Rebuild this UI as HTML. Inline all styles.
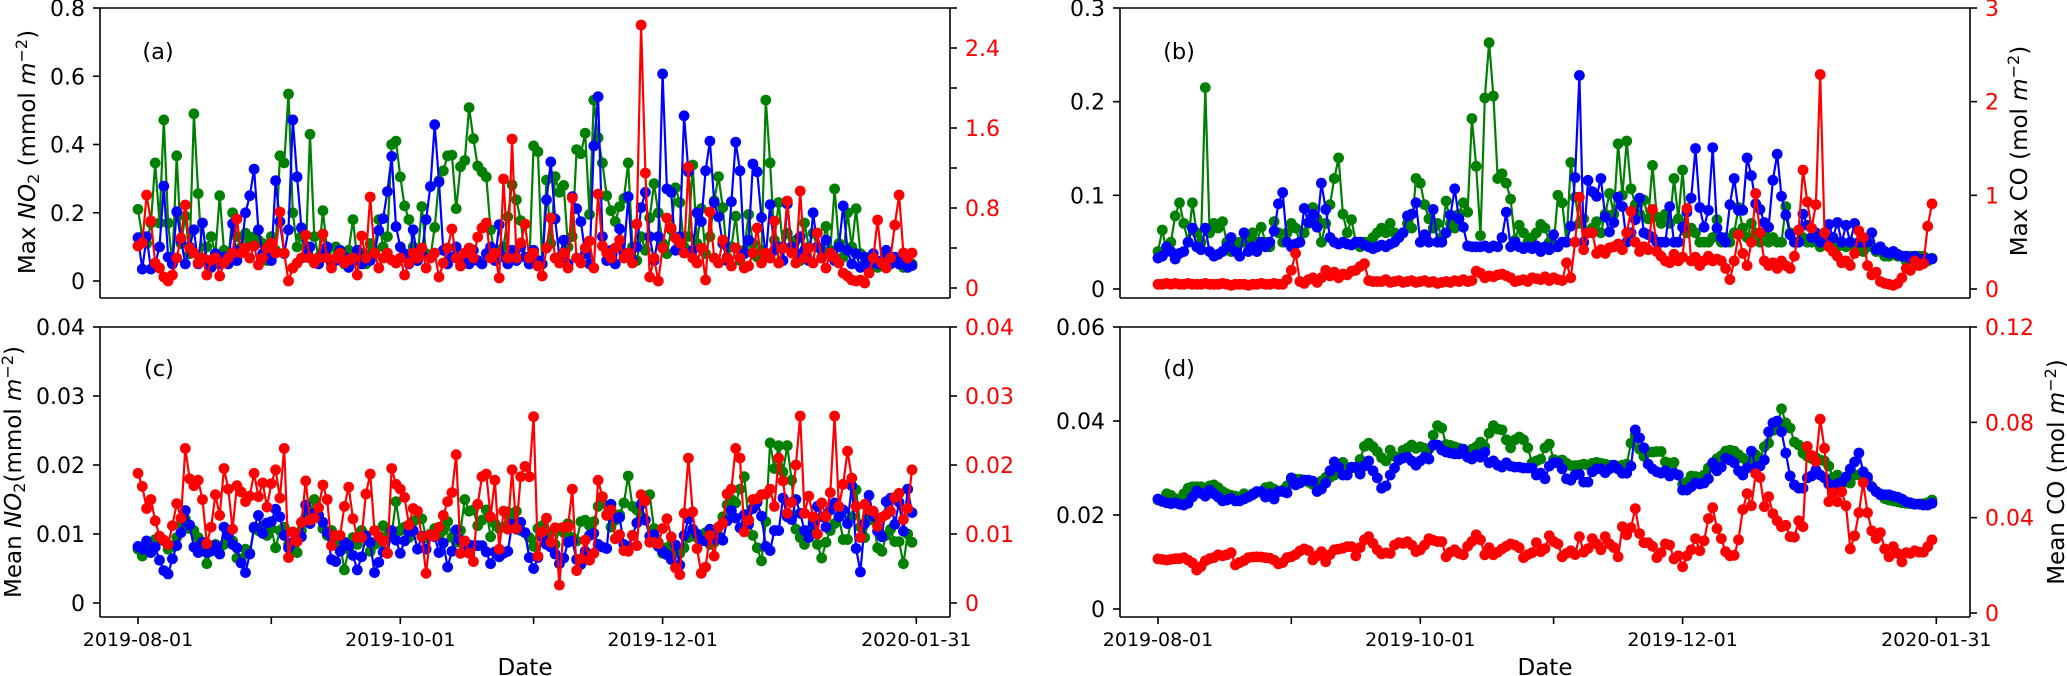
<!DOCTYPE html>
<html lang="en">
<head>
<meta charset="utf-8">
<title>NO2 and CO time series</title>
<style>
html,body{margin:0;padding:0;background:#fff;}
svg{display:block;font-family:"DejaVu Sans","Liberation Sans",sans-serif;}
</style>
</head>
<body>
<svg id="chart" xmlns="http://www.w3.org/2000/svg" width="2067" height="676" viewBox="0 0 2067 676">
  <rect x="0" y="0" width="2067" height="676" fill="#fff"/>
  <g id="plots"></g>
  <text x="158" y="59" font-size="22.5" text-anchor="middle">(a)</text>
  <text x="1179" y="59" font-size="22.5" text-anchor="middle">(b)</text>
  <text x="159" y="376" font-size="22.5" text-anchor="middle">(c)</text>
  <text x="1179" y="376" font-size="22.5" text-anchor="middle">(d)</text>
  <text x="525" y="675" font-size="23" text-anchor="middle">Date</text>
  <text x="1545" y="675" font-size="23" text-anchor="middle">Date</text>
  <text transform="translate(35,152) rotate(-90)" font-size="23" text-anchor="middle">Max <tspan font-style="italic">NO</tspan><tspan dy="4" font-size="16">2</tspan><tspan dy="-4"> (mmol </tspan><tspan font-style="italic">m</tspan><tspan dy="-8" font-size="16">−2</tspan><tspan dy="8">)</tspan></text>
  <text transform="translate(21,472) rotate(-90)" font-size="23" text-anchor="middle">Mean <tspan font-style="italic">NO</tspan><tspan dy="4" font-size="16">2</tspan><tspan dy="-4">(mmol </tspan><tspan font-style="italic">m</tspan><tspan dy="-8" font-size="16">−2</tspan><tspan dy="8">)</tspan></text>
  <text transform="translate(2027,151) rotate(-90)" font-size="23" text-anchor="middle">Max CO (mol <tspan font-style="italic">m</tspan><tspan dy="-8" font-size="16">−2</tspan><tspan dy="8">)</tspan></text>
  <text transform="translate(2064,472) rotate(-90)" font-size="23" text-anchor="middle">Mean CO (mol <tspan font-style="italic">m</tspan><tspan dy="-8" font-size="16">−2</tspan><tspan dy="8">)</tspan></text>
</svg>
<script>
const xTickIndex = [0,31,61,92,122,181];
const xTickLabels = ['2019-08-01','','2019-10-01','','2019-12-01','2020-01-31'];

const aLeftTicks = [0,0.2,0.4,0.6,0.8];
const aLeftLabels = ['0','0.2','0.4','0.6','0.8'];
const aRightTicks = [0,0.4,0.8,1.2,1.6,2,2.4,2.8];
const aRightLabels = ['0','','0.8','','1.6','','2.4',''];
const bLeftTicks = [0,0.1,0.2,0.3];
const bLeftLabels = ['0','0.1','0.2','0.3'];
const bRightTicks = [0,1,2,3];
const bRightLabels = ['0','1','2','3'];
const cLeftTicks = [0,0.01,0.02,0.03,0.04];
const cLeftLabels = ['0','0.01','0.02','0.03','0.04'];
const cRightTicks = [0,0.01,0.02,0.03,0.04];
const cRightLabels = ['0','0.01','0.02','0.03','0.04'];
const dLeftTicks = [0,0.02,0.04,0.06];
const dLeftLabels = ['0','0.02','0.04','0.06'];
const dRightTicks = [0,0.04,0.08,0.12];
const dRightLabels = ['0','0.04','0.08','0.12'];

const aGreen = [.21,.13,.11,.17,.346,.17,.472,.17,.05,.367,
.11,.19,.08,.49,.256,.06,.1,.13,.08,.25,
.09,.06,.2,.13,.1,.14,.12,.13,.12,.11,
.06,.13,.09,.367,.346,.548,.2,.1,.13,.07,
.43,.13,.07,.206,.09,.06,.1,.07,.05,.09,
.18,.06,.08,.05,.11,.09,.18,.1,.13,.4,
.41,.305,.22,.18,.1,.06,.218,.08,.07,.157,
.294,.323,.367,.369,.212,.335,.353,.508,.417,.337,
.32,.305,.15,.07,.09,.1,.188,.282,.238,.177,
.07,.05,.396,.379,.05,.296,.11,.306,.26,.28,
.1,.13,.385,.373,.433,.195,.53,.42,.346,.25,
.206,.174,.218,.242,.346,.1,.06,.13,.09,.185,
.285,.2,.11,.08,.15,.273,.23,.1,.13,.34,
.11,.212,.08,.13,.235,.306,.215,.07,.1,.19,
.06,.09,.195,.11,.07,.09,.53,.346,.12,.23,
.1,.14,.09,.12,.06,.17,.1,.14,.1,.09,
.16,.09,.27,.11,.07,.2,.1,.212,.08,.05,
.04,.06,.04,.05,.08,.05,.06,.05,.04,.06,.05];

const aBlue = [.127,.035,.13,.035,.05,.1,.278,.07,.05,.203,
.12,.05,.1,.15,.05,.17,.06,.04,.08,.05,
.07,.05,.168,.06,.09,.2,.25,.328,.15,.08,
.07,.06,.294,.174,.08,.15,.472,.305,.156,.07,
.1,.06,.05,.08,.1,.05,.06,.09,.07,.04,
.06,.09,.05,.07,.06,.08,.148,.183,.262,.365,
.159,.1,.08,.05,.15,.06,.08,.18,.277,.458,
.29,.09,.05,.07,.1,.06,.08,.05,.09,.06,
.05,.08,.1,.06,.165,.07,.05,.09,.06,.1,
.07,.05,.09,.06,.05,.238,.349,.182,.07,.12,
.05,.247,.212,.174,.08,.05,.396,.54,.13,.06,
.09,.05,.153,.08,.247,.06,.1,.215,.26,.13,
.06,.13,.607,.27,.26,.09,.13,.484,.32,.09,
.2,.174,.323,.41,.23,.188,.11,.06,.232,.407,
.323,.08,.12,.343,.32,.186,.07,.224,.09,.1,
.06,.226,.1,.08,.13,.09,.06,.2,.1,.07,
.12,.08,.06,.1,.22,.09,.05,.08,.04,.07,
.05,.08,.05,.06,.09,.05,.07,.05,.06,.04,.045];

const aRed = [.42,.45,.93,.67,.25,.2,.11,.07,.13,.3,
.5,.83,.4,.35,.25,.3,.13,.28,.3,.12,
.25,.3,.35,.69,.35,.4,.3,.42,.23,.3,
.4,.45,.35,.76,.35,.07,.2,.25,.3,.53,
.3,.25,.3,.54,.3,.2,.3,.35,.25,.28,
.3,.13,.52,.3,.91,.35,.2,.3,.35,.28,
.25,.3,.13,.25,.35,.3,.4,.2,.3,.35,
.11,.25,.4,.59,.3,.22,.35,.4,.3,.51,
.6,.65,.3,.35,.1,1.09,.3,1.49,.3,.45,
.64,.3,.35,.22,.12,.4,.7,.3,.25,.35,
.2,.9,.3,.25,.4,.47,.2,.94,.42,.35,
.3,.4,.48,.3,.35,.25,.64,2.63,1.15,.11,
.3,.07,.4,.7,.6,.5,.45,.35,1.21,.3,
.25,.4,.08,.76,.3,.25,.48,.3,.22,.4,
.3,.2,.22,.35,.6,.25,.35,.3,.67,.25,
.4,.87,.35,.25,.97,.3,.4,.25,.55,.3,
.2,.35,.3,.25,.15,.12,.08,.07,.08,.05,
.15,.3,.68,.25,.2,.3,.63,.93,.35,.3,.35];

const bGreen = [.04,.063,.04,.05,.078,.092,.07,.05,.092,.06,
.05,.215,.06,.07,.065,.072,.05,.04,.045,.05,
.05,.055,.06,.05,.066,.05,.045,.072,.06,.05,
.06,.07,.065,.05,.06,.07,.087,.075,.05,.07,
.09,.118,.14,.08,.06,.074,.05,.045,.05,.05,
.055,.06,.065,.06,.07,.06,.055,.06,.07,.065,
.118,.113,.09,.075,.065,.07,.055,.094,.07,.065,
.08,.092,.082,.182,.131,.057,.204,.263,.206,.118,
.123,.113,.096,.052,.068,.06,.05,.055,.06,.069,
.065,.05,.045,.1,.092,.05,.135,.098,.07,.075,
.06,.065,.072,.06,.08,.102,.08,.155,.1,.158,
.107,.09,.08,.095,.075,.132,.077,.07,.08,.07,
.118,.075,.127,.06,.065,.06,.05,.05,.05,.055,
.074,.05,.055,.05,.06,.087,.065,.055,.07,.06,
.05,.06,.05,.055,.05,.05,.088,.06,.05,.05,
.055,.05,.05,.055,.045,.05,.05,.045,.045,.05,
.045,.05,.045,.045,.04,.045,.045,.04,.04,.035,
.035,.04,.035,.035,.03,.035,.03,.035,.035,.03,.033];

const bBlue = [.033,.035,.045,.04,.032,.038,.04,.05,.065,.045,
.042,.065,.04,.035,.037,.04,.045,.055,.04,.035,
.06,.04,.045,.04,.05,.045,.05,.062,.091,.103,
.05,.045,.048,.05,.086,.071,.08,.066,.113,.085,
.055,.05,.048,.05,.048,.047,.05,.05,.047,.045,
.043,.045,.047,.045,.048,.05,.055,.06,.078,.08,
.092,.05,.058,.05,.085,.05,.05,.06,.079,.107,
.075,.066,.046,.045,.045,.045,.046,.044,.046,.045,
.055,.082,.045,.05,.045,.043,.045,.043,.046,.04,
.045,.042,.058,.045,.05,.05,.067,.119,.228,.05,
.116,.104,.099,.118,.077,.061,.071,.098,.088,.05,
.06,.074,.097,.06,.058,.055,.05,.05,.05,.088,
.05,.05,.066,.082,.097,.15,.087,.066,.084,.151,
.065,.055,.05,.09,.118,.084,.084,.14,.121,.091,
.085,.071,.066,.116,.144,.099,.079,.058,.05,.05,
.08,.068,.055,.06,.05,.05,.069,.055,.071,.05,
.068,.05,.07,.05,.05,.05,.06,.042,.045,.04,
.038,.04,.037,.035,.035,.033,.035,.03,.032,.032,.032];

const bRed = [.05,.05,.06,.05,.06,.05,.05,.06,.05,.05,
.05,.06,.05,.05,.05,.06,.05,.04,.05,.05,
.05,.04,.05,.05,.06,.05,.05,.06,.05,.05,
.1,.2,.38,.08,.06,.1,.12,.07,.12,.2,
.14,.18,.12,.16,.15,.19,.2,.24,.27,.09,
.08,.08,.08,.1,.07,.08,.09,.07,.08,.09,
.07,.08,.09,.07,.08,.06,.07,.08,.07,.09,
.08,.1,.08,.09,.19,.17,.12,.14,.13,.15,
.16,.14,.12,.08,.09,.1,.08,.12,.11,.1,
.13,.09,.12,.1,.09,.28,.12,.5,.98,.42,
.6,.6,.38,.42,.38,.44,.45,.48,.42,.6,
.83,.5,.4,.45,.42,.85,.4,.35,.3,.28,
.37,.3,.34,.86,.3,.34,.25,.3,.35,.3,
.32,.3,.22,.1,.3,.58,.38,.25,.5,1.02,
.6,.3,.25,.28,.22,.3,.25,.22,.35,.63,
1.27,.93,.65,.9,2.29,.6,.45,.4,.35,.28,
.3,.25,.38,.62,.55,.25,.15,.18,.08,.06,
.05,.04,.06,.12,.22,.2,.3,.25,.27,.67,.91];

const cGreen = [.0078,.0068,.0075,.0085,.0092,.0095,.009,.0078,.0082,.0095,
.0115,.0122,.0108,.0105,.0095,.0085,.0057,.0075,.0085,.008,
.0085,.0095,.009,.0065,.0064,.0078,.0072,.0108,.0105,.0112,
.0098,.0108,.008,.0105,.011,.0085,.0078,.0073,.0105,.0125,
.013,.015,.0125,.0108,.0098,.0105,.0095,.0085,.0048,.0078,
.0095,.0085,.0105,.0098,.0075,.0085,.0088,.0112,.0098,.01,
.0147,.0105,.011,.0095,.0118,.0122,.0122,.0095,.01,.0108,
.0098,.0105,.0118,.0095,.0088,.0105,.015,.0133,.0135,.0112,
.012,.0135,.0096,.0115,.0108,.011,.0132,.012,.0133,.0105,
.0102,.0095,.0082,.0108,.0112,.0095,.0102,.0085,.0108,.0102,
.0115,.0095,.009,.0118,.012,.0112,.0118,.014,.0145,.0128,
.011,.012,.0128,.0145,.0184,.014,.0135,.0125,.0155,.0157,
.0108,.0088,.0072,.008,.0085,.0075,.0072,.008,.0095,.0105,
.0095,.0098,.0102,.0085,.0088,.0098,.0125,.0142,.015,.0145,
.0165,.0183,.012,.0098,.008,.0061,.0118,.0232,.0195,.0228,
.019,.0228,.0178,.0107,.0095,.0085,.0105,.012,.0085,.0065,
.0088,.0105,.0115,.0125,.0092,.0092,.0125,.0164,.011,.0095,
.0125,.012,.008,.0075,.0098,.0107,.0089,.0089,.0057,.01,.0088];

const cBlue = [.0082,.0078,.009,.0073,.0081,.0062,.0047,.0042,.0064,.0083,
.0102,.0134,.0113,.0081,.0073,.0088,.0073,.0076,.0083,.0071,
.011,.0098,.0085,.008,.0058,.0044,.0071,.011,.0127,.0101,
.0116,.0118,.0136,.0125,.0098,.008,.0088,.0095,.0096,.0142,
.0115,.013,.0127,.0117,.0102,.0063,.006,.0075,.0088,.0083,
.0069,.0048,.0067,.0097,.0088,.0044,.0059,.0074,.0072,.0105,
.0091,.0072,.009,.0103,.0105,.0078,.0097,.0078,.0098,.0096,
.0073,.0087,.0052,.0075,.0106,.0091,.0075,.0084,.0083,.0083,
.0083,.0074,.0057,.0074,.0067,.0072,.0075,.0114,.0107,.0117,
.0102,.0066,.005,.0066,.0096,.0085,.0081,.0071,.0057,.0065,
.0088,.009,.0063,.0056,.0075,.0098,.0101,.0085,.0081,.0079,
.0143,.0123,.0124,.0085,.0082,.0098,.0116,.0143,.012,.0097,
.0099,.0082,.0075,.007,.0063,.0084,.0055,.0098,.0122,.0107,
.01,.009,.009,.0107,.0092,.0095,.0091,.0119,.0134,.0123,
.0109,.0128,.0114,.0137,.0146,.0126,.0082,.0076,.0105,.0105,
.0152,.0125,.0121,.015,.013,.0105,.0095,.0115,.014,.0125,
.011,.0135,.0145,.0125,.0135,.0115,.017,.0079,.0045,.0115,
.0156,.0126,.0104,.0096,.0147,.0152,.0114,.0146,.0104,.0165,.0131];

const cRed = [.0188,.0169,.0137,.015,.0119,.0097,.0091,.0085,.0112,.0144,
.0123,.0224,.018,.017,.0178,.015,.0086,.011,.0157,.0127,
.0195,.0165,.0107,.017,.0161,.0147,.0155,.0188,.0154,.0174,
.0139,.0173,.0193,.0152,.0224,.0066,.0103,.0089,.0117,.0177,
.012,.0123,.0138,.0171,.015,.0083,.0098,.0098,.014,.0168,
.0122,.0095,.0095,.0158,.0187,.0105,.0096,.009,.0072,.0195,
.0172,.0165,.0153,.0113,.0137,.0133,.0096,.0043,.0099,.0097,
.011,.0127,.0147,.016,.0215,.0072,.009,.0072,.006,.0143,
.0183,.0187,.0125,.0178,.0078,.0133,.0107,.0193,.0108,.0183,
.0198,.0183,.027,.0068,.0103,.0123,.0088,.0109,.0026,.011,
.011,.0165,.0047,.0064,.0091,.0062,.0072,.0178,.0154,.0127,
.0135,.0093,.0099,.0076,.0075,.0098,.0083,.0157,.0148,.0088,
.0088,.0086,.0108,.0122,.0096,.0051,.0041,.013,.021,.0132,
.0079,.0043,.0052,.0098,.0068,.011,.0116,.0158,.0165,.0224,
.021,.0103,.012,.015,.0151,.0157,.0158,.0165,.014,.021,
.0177,.013,.0146,.02,.0271,.013,.0155,.0125,.01,.0145,
.0125,.016,.0271,.014,.0172,.022,.0181,.014,.0095,.0143,
.0135,.0133,.0111,.0124,.0128,.0133,.0153,.0159,.0121,.0137,.0193];

const dGreen = [.0232,.0232,.0245,.0242,.0235,.0232,.0245,.0257,.026,.026,
.026,.0255,.0262,.0264,.0258,.025,.0245,.0242,.024,.0235,
.0245,.024,.0245,.0248,.025,.0258,.026,.0255,.025,.0253,
.0262,.0272,.0276,.0276,.0274,.027,.0265,.0262,.0272,.028,
.028,.0285,.03,.0312,.0295,.03,.03,.0318,.0346,.0353,
.0345,.0335,.0322,.0315,.0338,.0325,.032,.0338,.0342,.0349,
.0342,.0345,.0342,.034,.037,.039,.0385,.035,.0348,.0345,
.0342,.0338,.0335,.034,.0345,.0355,.0345,.0374,.039,.0383,
.0381,.036,.0343,.036,.0366,.036,.0343,.0311,.0315,.0319,
.0343,.0351,.0318,.0315,.0317,.031,.0305,.0305,.0306,.0308,
.0306,.031,.0312,.031,.0308,.0306,.0305,.0304,.0306,.0308,
.0353,.037,.034,.0325,.0334,.0334,.0335,.0335,.0313,.031,
.0312,.0285,.0265,.027,.0283,.0282,.028,.0285,.03,.031,
.032,.0326,.0336,.0338,.0336,.0328,.0321,.0315,.031,.0328,
.032,.0345,.0353,.038,.0392,.0426,.0396,.0385,.0355,.0349,
.0332,.0325,.032,.0322,.0317,.0315,.0304,.028,.0285,.0275,
.027,.0268,.0285,.0285,.0285,.0275,.026,.025,.0245,.0235,
.0232,.023,.0228,.0226,.0225,.0224,.0223,.0223,.0224,.0226,.0232];

const dBlue = [.0234,.0229,.0226,.0224,.0226,.0223,.0221,.0225,.0238,.0251,
.0246,.024,.0253,.0245,.0238,.023,.0232,.0236,.023,.023,
.0234,.0238,.0243,.025,.025,.0238,.0245,.0234,.025,.025,
.0247,.0279,.0264,.0268,.0274,.0274,.0272,.025,.0255,.0268,
.0294,.0313,.0302,.0285,.0285,.0302,.0302,.0287,.0304,.0315,
.0294,.0279,.0257,.0262,.0285,.03,.0317,.0321,.0323,.0315,
.0306,.0315,.0323,.0319,.0349,.0349,.0338,.0334,.0332,.033,
.033,.034,.0323,.0319,.0328,.0323,.0334,.0311,.0315,.0306,
.0302,.0311,.0304,.0302,.0302,.03,.03,.03,.0285,.0289,
.0277,.0304,.0311,.0311,.0298,.0277,.0274,.0285,.0287,.027,
.027,.0292,.0298,.0298,.029,.0298,.0306,.0298,.0289,.0289,
.0304,.0381,.0364,.0343,.0308,.0298,.0292,.0289,.0294,.0283,
.0289,.0285,.0253,.0253,.026,.0268,.0266,.0268,.0277,.0311,
.0294,.0302,.0321,.0317,.0311,.0294,.0285,.03,.0336,.0302,
.0304,.0317,.0377,.0396,.04,.0377,.0332,.0283,.0264,.0257,
.0257,.0279,.0283,.0296,.0285,.0279,.0266,.0262,.0266,.027,
.0281,.0298,.0313,.0332,.0292,.0281,.026,.025,.0243,.0243,
.0243,.024,.0238,.0234,.0228,.0226,.0223,.0223,.0221,.0221,.0225];

const dRed = [.0227,.0225,.0222,.0225,.0228,.0228,.0232,.0222,.021,.018,
.0195,.0219,.0228,.0232,.0244,.024,.0244,.0253,.0202,.0212,
.022,.0232,.0235,.0236,.0235,.0232,.023,.0222,.0206,.0212,
.0232,.0236,.0245,.026,.0269,.0262,.0223,.024,.0257,.0215,
.0245,.0265,.0268,.0272,.0278,.0278,.024,.0275,.0307,.032,
.0292,.0265,.0248,.0252,.025,.0285,.0295,.0292,.0299,.0285,
.0257,.0265,.0285,.0312,.0305,.03,.0299,.0236,.0255,.0265,
.025,.0244,.028,.03,.0328,.0307,.0244,.0274,.0244,.0255,
.0269,.028,.029,.0285,.0274,.0232,.0245,.0253,.0295,.0257,
.027,.0324,.03,.029,.0236,.025,.0261,.0245,.032,.0255,
.027,.0312,.029,.0265,.032,.029,.0275,.0236,.0362,.0328,
.0358,.0438,.0333,.0295,.0295,.028,.0232,.0253,.029,.0285,
.0227,.024,.0194,.024,.0265,.0312,.0261,.0303,.0396,.0442,
.0354,.0312,.0257,.024,.0242,.0307,.0434,.0501,.045,.0585,
.0568,.0446,.0488,.0417,.0387,.0362,.0368,.032,.0318,.0387,
.0362,.0699,.0661,.0636,.0813,.0691,.0467,.0505,.0467,.0509,
.045,.0269,.0324,.0421,.0547,.0421,.0345,.0312,.0337,.0269,
.0236,.0278,.025,.0215,.0253,.025,.0261,.0255,.0255,.0278,.0307];

const SVGNS = 'http://www.w3.org/2000/svg';
const plots = document.getElementById('plots');

function make(tag, parent) {
  const el = document.createElementNS(SVGNS, tag);
  parent.appendChild(el);
  return el;
}
function linearScale(v0, p0, v1, p1) {
  return function (v) { return p0 + (v - v0) * (p1 - p0) / (v1 - v0); };
}

const layouts = [
  {id:'a', left:100, right:950, top:8, bottom:298, first:138, step:4.3,
   yl:linearScale(0,281,0.8,8), yr:linearScale(0,288,2.8,8),
   lt:aLeftTicks, ll:aLeftLabels, rt:aRightTicks, rl:aRightLabels,
   series:[[aGreen,'l','#008000','green'],[aBlue,'l','#0000ff','blue'],[aRed,'r','#ff0000','red']], xlabels:false},
  {id:'b', left:1120, right:1970, top:8, bottom:298, first:1158, step:4.3,
   yl:linearScale(0,289,0.3,8), yr:linearScale(0,289,3,8),
   lt:bLeftTicks, ll:bLeftLabels, rt:bRightTicks, rl:bRightLabels,
   series:[[bGreen,'l','#008000','green'],[bBlue,'l','#0000ff','blue'],[bRed,'r','#ff0000','red']], xlabels:false},
  {id:'c', left:100, right:950, top:327, bottom:617, first:138, step:4.3,
   yl:linearScale(0,603,0.04,327), yr:linearScale(0,603,0.04,327),
   lt:cLeftTicks, ll:cLeftLabels, rt:cRightTicks, rl:cRightLabels,
   series:[[cGreen,'l','#008000','green'],[cBlue,'l','#0000ff','blue'],[cRed,'r','#ff0000','red']], xlabels:true},
  {id:'d', left:1120, right:1970, top:327, bottom:617, first:1158, step:4.3,
   yl:linearScale(0,609,0.06,327), yr:linearScale(0,613,0.12,327),
   lt:dLeftTicks, ll:dLeftLabels, rt:dRightTicks, rl:dRightLabels,
   series:[[dGreen,'l','#008000','green'],[dBlue,'l','#0000ff','blue'],[dRed,'r','#ff0000','red']], xlabels:true}
];

function hLine(parent, x1, x2, y) {
  const el = make('line', parent);
  el.setAttribute('x1', x1); el.setAttribute('x2', x2);
  el.setAttribute('y1', y); el.setAttribute('y2', y);
  el.setAttribute('stroke', '#000'); el.setAttribute('stroke-width', 1.6);
  return el;
}
function vLine(parent, x, y1, y2) {
  const el = make('line', parent);
  el.setAttribute('x1', x); el.setAttribute('x2', x);
  el.setAttribute('y1', y1); el.setAttribute('y2', y2);
  el.setAttribute('stroke', '#000'); el.setAttribute('stroke-width', 1.6);
  return el;
}

layouts.forEach(function (p) {
  const g = make('g', plots);
  
  
  const xScale = function (i) { return p.first + i * p.step; };

  // series under the axes frame
  p.series.forEach(function (s) {
    const values = s[0], scale = s[1] === 'l' ? p.yl : p.yr, color = s[2];
    const sg = make('g', g);
    
    
    const line = make('polyline', sg);
    
    
    line.setAttribute('fill', 'none');
    line.setAttribute('stroke', color);
    line.setAttribute('stroke-width', 2.2);
    line.setAttribute('stroke-linejoin', 'round');
    line.setAttribute('points', values.map(function (v, i) {
      return xScale(i).toFixed(1) + ',' + scale(v).toFixed(1);
    }).join(' '));
    values.forEach(function (v, i) {
      const c = make('circle', sg);
      
      
      c.setAttribute('cx', xScale(i).toFixed(1));
      c.setAttribute('cy', scale(v).toFixed(1));
      c.setAttribute('r', 5.4);
      c.setAttribute('fill', color);
    });
  });

  // frame
  const top = hLine(g, p.left, p.right, p.top);
  
  
  const bottom = hLine(g, p.left, p.right, p.bottom);
  
  
  const leftS = vLine(g, p.left, p.top, p.bottom);
  
  
  const rightS = vLine(g, p.right, p.top, p.bottom);
  
  

  // left ticks
  p.lt.forEach(function (v, i) {
    const y = p.yl(v);
    const t = hLine(g, p.left - 7, p.left, y);
    
    
    const label = make('text', g);
    
    
    label.setAttribute('x', p.left - 15);
    label.setAttribute('y', y + 8);
    label.setAttribute('font-size', 22);
    label.setAttribute('text-anchor', 'end');
    label.textContent = p.ll[i];
  });

  // right ticks
  p.rt.forEach(function (v, i) {
    const y = p.yr(v);
    const t = hLine(g, p.right, p.right + 7, y);
    
    
    if (p.rl[i]) {
      const label = make('text', g);
      
      
      label.setAttribute('x', p.right + 15);
      label.setAttribute('y', y + 8);
      label.setAttribute('font-size', 22);
      label.setAttribute('fill', '#ff0000');
      label.textContent = p.rl[i];
    }
  });

  // x ticks
  if (p.xlabels) {
    xTickIndex.forEach(function (idx, i) {
      const x = xScale(idx);
      const t = vLine(g, x, p.bottom, p.bottom + 7);
      
      
      if (xTickLabels[i]) {
        const label = make('text', g);
        
        
        label.setAttribute('x', x);
        label.setAttribute('y', 646);
        label.setAttribute('font-size', 19);
        label.setAttribute('text-anchor', 'middle');
        label.textContent = xTickLabels[i];
      }
    });
  }
});
</script>
</body>
</html>
